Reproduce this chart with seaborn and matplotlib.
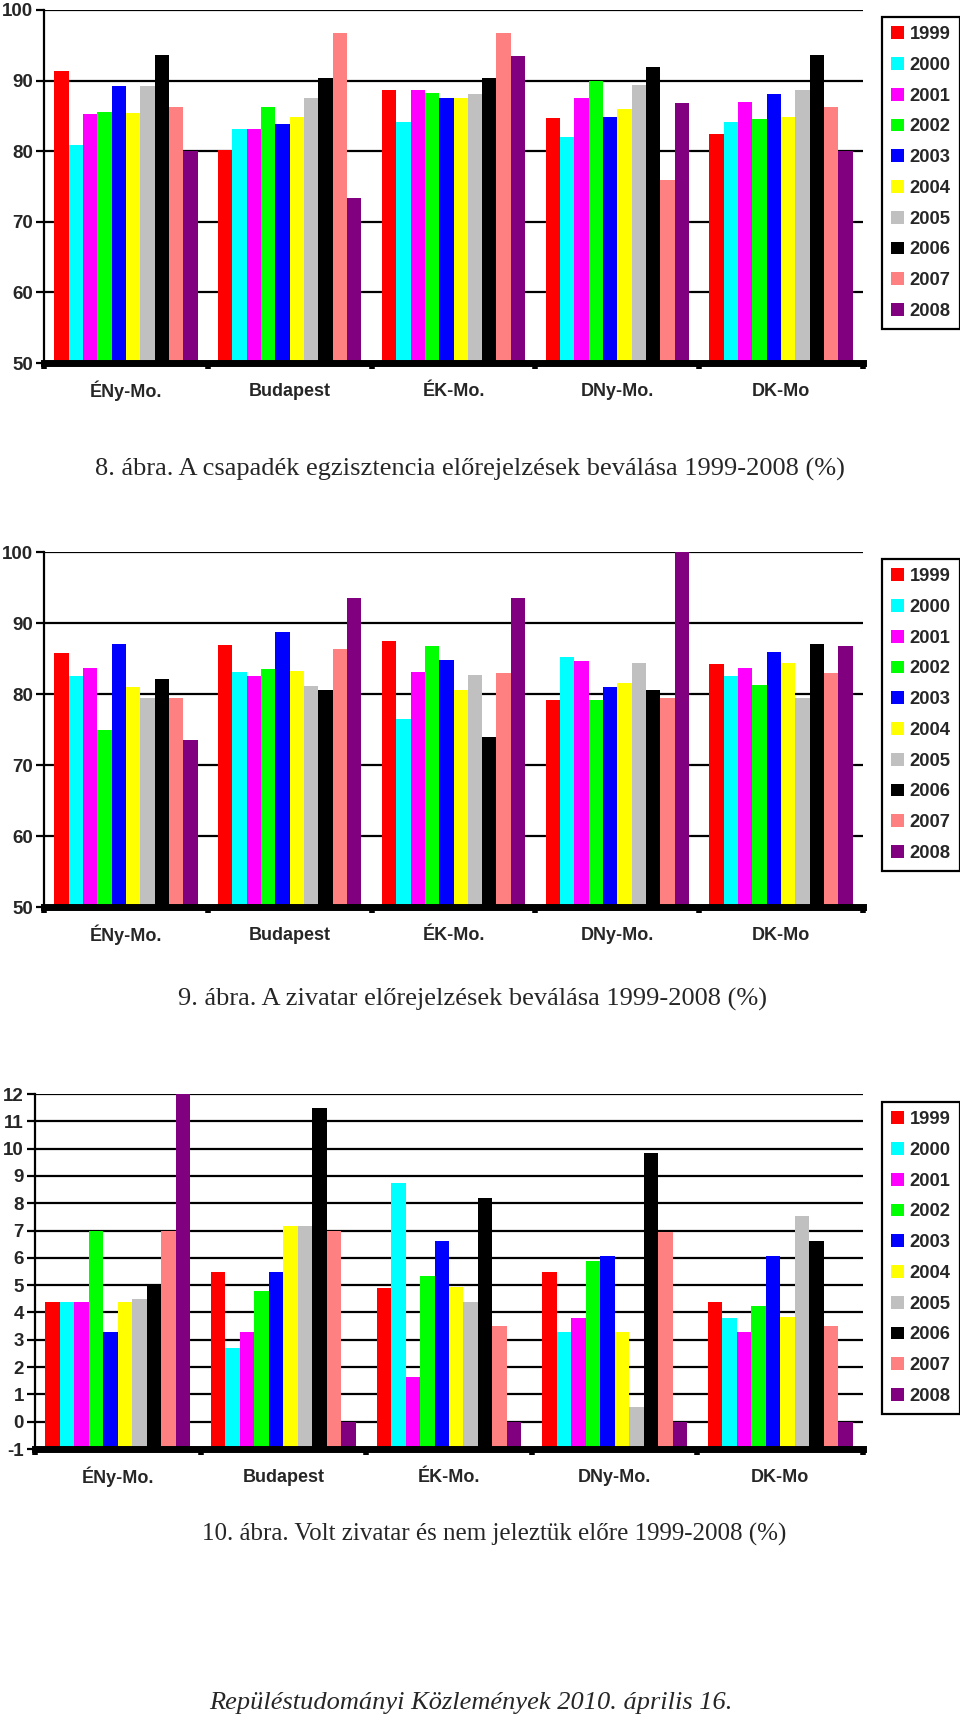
"""Három csoportosított oszlopdiagram: előrejelzések beválása régiónként, 1999-2008"""
import matplotlib
matplotlib.use("Agg")
import matplotlib.pyplot as plt
import matplotlib.transforms as mtransforms
import seaborn as sns
import pandas as pd

# Régiók és évek
regiok = ["ÉNy-Mo.", "Budapest", "ÉK-Mo.", "DNy-Mo.", "DK-Mo"]
evek = ["1999", "2000", "2001", "2002", "2003", "2004", "2005", "2006", "2007", "2008"]
szinek = ["#FF0000", "#00FFFF", "#FF00FF", "#00FF00", "#0000FF",
          "#FFFF00", "#C0C0C0", "#000000", "#FF8080", "#800080"]

# 8. ábra - csapadék egzisztencia (%), régiónként 1999..2008
csapadek_eny = [91.3, 80.9, 85.2, 85.5, 89.2, 85.4, 89.2, 93.6, 86.3, 80.0]
csapadek_bp = [80.2, 83.1, 83.1, 86.2, 83.8, 84.9, 87.6, 90.3, 96.7, 73.4]
csapadek_ek = [88.6, 84.1, 88.6, 88.3, 87.6, 87.6, 88.1, 90.3, 96.7, 93.5]
csapadek_dny = [84.7, 82.0, 87.5, 90.0, 84.9, 86.0, 89.4, 91.9, 75.9, 86.8]
csapadek_dk = [82.5, 84.2, 86.9, 84.5, 88.1, 84.9, 88.7, 93.6, 86.3, 80.0]

# 9. ábra - zivatar előrejelzések (%)
zivatar_eny = [85.8, 82.6, 83.6, 74.9, 87.0, 81.0, 79.4, 82.1, 79.4, 73.5]
zivatar_bp = [86.9, 83.1, 82.6, 83.5, 88.7, 83.2, 81.1, 80.5, 86.3, 93.5]
zivatar_ek = [87.5, 76.5, 83.1, 86.7, 84.8, 80.5, 82.7, 73.9, 82.9, 93.5]
zivatar_dny = [79.2, 85.2, 84.7, 79.1, 81.0, 81.6, 84.3, 80.5, 79.4, 100.0]
zivatar_dk = [84.2, 82.6, 83.6, 81.3, 85.9, 84.3, 79.4, 87.0, 82.9, 86.8]

# 10. ábra - volt zivatar és nem jeleztük előre (%)
kihagyott_eny = [4.4, 4.4, 4.4, 7.0, 3.3, 4.4, 4.5, 5.0, 7.0, 12.0]
kihagyott_bp = [5.5, 2.7, 3.3, 4.8, 5.5, 7.15, 7.15, 11.5, 7.0, 0.0]
kihagyott_ek = [4.9, 8.75, 1.65, 5.35, 6.6, 4.95, 4.4, 8.2, 3.5, 0.0]
kihagyott_dny = [5.5, 3.3, 3.8, 5.9, 6.05, 3.3, 0.55, 9.85, 6.95, 0.0]
kihagyott_dk = [4.4, 3.8, 3.3, 4.25, 6.05, 3.85, 7.55, 6.6, 3.5, 0.0]

sns.set_style("white")
plt.rcParams['font.family'] = ['Liberation Sans', 'DejaVu Sans']
plt.rcParams['axes.unicode_minus'] = False


def hosszu_tabla(sorok):
    """Régiónkénti listákból hosszú formátumú tábla"""
    rekordok = []
    for regio, ertekek in zip(regiok, sorok):
        for ev, ertek in zip(evek, ertekek):
            rekordok.append({"regio": regio, "ev": ev, "ertek": ertek})
    return pd.DataFrame(rekordok)


def rajzol(fig, pozicio, sorok, ymin, ymax, ylepes, legend_top):
    ax = fig.add_axes(pozicio)
    df = hosszu_tabla(sorok)
    sns.barplot(data=df, x="regio", y="ertek", hue="ev", hue_order=evek,
                order=regiok, palette=szinek, width=0.875, gap=0,
                linewidth=0, saturation=1, ax=ax, errorbar=None)
    # az oszlopok a tengely aljától indulnak (pl. -1)
    if ymin < 0:
        for p in ax.patches:
            h = p.get_height()
            p.set_y(ymin)
            p.set_height(h - ymin)
    ax.set_ylim(ymin, ymax)
    ax.set_xlim(-0.5, len(regiok) - 0.5)
    ax.set_yticks(range(ymin, ymax + 1, ylepes))
    ax.set_xlabel("")
    ax.set_ylabel("")
    ax.set_axisbelow(True)
    ax.yaxis.grid(True, color="black", linewidth=1.6)
    ax.xaxis.grid(False)
    for s in ["top", "right"]:
        ax.spines[s].set_visible(False)
    ax.spines["left"].set_linewidth(1.6)
    ax.spines["left"].set_color("black")
    ax.spines["bottom"].set_linewidth(5)
    ax.spines["bottom"].set_color("black")
    ax.tick_params(axis="y", which="major", left=True, length=6, width=1.6,
                   color="black", labelsize=13.5, pad=2)
    # kategória feliratok kézzel, hogy az ékezet ne tolja el őket
    ax.tick_params(axis="x", which="major", length=0, labelbottom=False)
    felirat_tr = mtransforms.offset_copy(ax.get_xaxis_transform(), fig=fig,
                                         y=-28, units="dots")
    for i, regio in enumerate(regiok):
        ax.text(i, 0, regio, transform=felirat_tr, ha="center", va="center",
                fontsize=13, fontweight="bold")
    ax.set_xticks([i - 0.5 for i in range(len(regiok) + 1)], minor=True)
    ax.tick_params(axis="x", which="minor", bottom=True, length=4, width=4,
                   color="black", direction="out")
    for t in ax.get_yticklabels():
        t.set_fontweight("bold")

    leg = ax.get_legend()
    handles = leg.legend_handles
    cimkek = [t.get_text() for t in leg.get_texts()]
    leg.remove()
    uj = ax.legend(handles, cimkek, loc="upper left",
                   bbox_to_anchor=(882 / 960, legend_top),
                   bbox_transform=fig.transFigure, frameon=True, fancybox=False,
                   edgecolor="black", framealpha=1,
                   prop={"size": 13.2, "weight": "bold"},
                   handlelength=0.7, handleheight=0.7, handletextpad=0.3,
                   labelspacing=0.75, borderpad=0.5, borderaxespad=0)
    uj.get_frame().set_linewidth(1.6)
    return ax


fig = plt.figure(figsize=(9.6, 17.19), dpi=100)

rajzol(fig, [44 / 960, 1356 / 1719, 819 / 960, 353 / 1719],
       [csapadek_eny, csapadek_bp, csapadek_ek, csapadek_dny, csapadek_dk],
       50, 100, 10, 1 - 17 / 1719)
rajzol(fig, [44 / 960, 812 / 1719, 819 / 960, 355 / 1719],
       [zivatar_eny, zivatar_bp, zivatar_ek, zivatar_dny, zivatar_dk],
       50, 100, 10, 1 - 559 / 1719)
rajzol(fig, [35 / 960, 270 / 1719, 828 / 960, 355 / 1719],
       [kihagyott_eny, kihagyott_bp, kihagyott_ek, kihagyott_dny, kihagyott_dk],
       -1, 12, 1, 1 - 1102 / 1719)

serif = ['Liberation Serif', 'DejaVu Serif']
fig.text(470 / 960, 1 - 469 / 1719,
         "8. ábra. A csapadék egzisztencia előrejelzések beválása 1999-2008 (%)",
         ha="center", va="center", fontsize=19, family=serif)
fig.text(472 / 960, 1 - 999 / 1719,
         "9. ábra. A zivatar előrejelzések beválása 1999-2008 (%)",
         ha="center", va="center", fontsize=19, family=serif)
fig.text(494 / 960, 1 - 1534 / 1719,
         "10. ábra. Volt zivatar és nem jeleztük előre 1999-2008 (%)",
         ha="center", va="center", fontsize=18, family=serif)
fig.text(471 / 960, 1 - 1703 / 1719,
         "Repüléstudományi Közlemények 2010. április 16.",
         ha="center", va="center", fontsize=19, family=serif, style="italic")

plt.savefig("out.png", dpi=100)
